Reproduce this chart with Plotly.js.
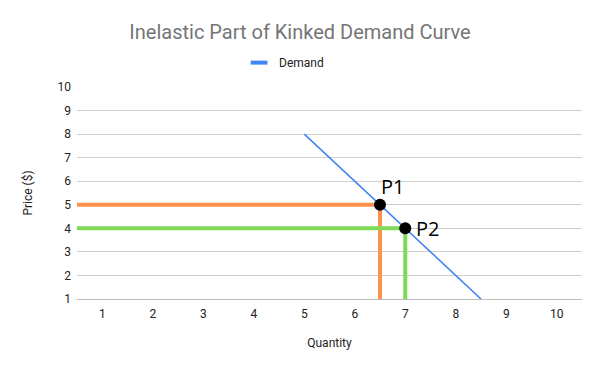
<!DOCTYPE html>
<html>
<head>
<meta charset="utf-8">
<script src="https://cdn.plot.ly/plotly-3.0.1.min.js"></script>
<style>html,body{margin:0;padding:0;background:#fff;}#chart{width:600px;height:371px;}</style>
</head>
<body>
<div id="chart"></div>
<script>
const demandQty = [5, 8.5];
const demandPrice = [8, 1];
const p1Qty = [0.5, 6.5, 6.5];
const p1Price = [5, 5, 1];
const p2Qty = [0.5, 7, 7];
const p2Price = [4, 4, 1];
const pointQty = [6.5, 7];
const pointPrice = [5, 4];
const pointLabels = ['P1', 'P2'];
const xTicks = [1, 2, 3, 4, 5, 6, 7, 8, 9, 10];
const yTicks = [1, 2, 3, 4, 5, 6, 7, 8, 9, 10];

const traces = [
  {x: p1Qty, y: p1Price, mode: 'lines', line: {color: '#ff914d', width: 4}, showlegend: false, hoverinfo: 'skip'},
  {x: p2Qty, y: p2Price, mode: 'lines', line: {color: '#7ed957', width: 4}, showlegend: false, hoverinfo: 'skip'},
  {x: demandQty, y: demandPrice, mode: 'lines', name: 'Demand', line: {color: '#4285f4', width: 1.6}, showlegend: false},
  {x: [null], y: [null], mode: 'markers', name: 'Demand', showlegend: true,
   marker: {symbol: 'line-ew', size: 12, color: '#4285f4', line: {color: '#4285f4', width: 4}}},
  {x: pointQty, y: pointPrice, mode: 'markers', marker: {color: '#000', size: 12}, showlegend: false, cliponaxis: false}
];

const annotations = pointLabels.map((t, i) => ({
  x: pointQty[i], y: pointPrice[i], text: t, showarrow: false,
  xanchor: 'left', yanchor: i === 0 ? 'bottom' : 'middle',
  xshift: i === 0 ? -1 : 9, yshift: i === 0 ? 3 : 0,
  font: {family: 'Open Sans, sans-serif', size: 20, color: '#000'}
}));

const layout = {
  width: 600, height: 371,
  margin: {l: 77, r: 18, t: 87, b: 72},
  paper_bgcolor: '#fff', plot_bgcolor: '#fff',
  font: {family: 'Roboto, Arial, sans-serif', size: 12, color: '#222'},
  title: {text: 'Inelastic Part of Kinked Demand Curve', x: 0.5, xanchor: 'center', y: 0.915, yanchor: 'middle',
          font: {family: 'Roboto, Arial, sans-serif', size: 20, color: '#757575'}},
  showlegend: true,
  legend: {orientation: 'h', x: 0.41, xanchor: 'center', y: 1.115, yanchor: 'middle',
           font: {size: 12, color: '#222'}},
  annotations: annotations,
  xaxis: {range: [0.5, 10.5], tickvals: xTicks, ticktext: xTicks.map(String), showgrid: false,
          zeroline: false, showline: true, linecolor: '#bbb', linewidth: 1, ticks: '', ticklabelstandoff: 4,
          tickfont: {size: 12, color: '#222'},
          title: {text: 'Quantity', font: {size: 12, color: '#222'}, standoff: 18}, fixedrange: true},
  yaxis: {range: [1, 10], tickvals: yTicks, showgrid: true, gridcolor: '#cfcfcf', gridwidth: 1,
          zeroline: false, showline: false, ticks: '', ticklabelstandoff: 5,
          tickfont: {size: 12, color: '#222'},
          title: {text: 'Price ($)', font: {size: 12, color: '#222'}, standoff: 22}, fixedrange: true}
};

Plotly.newPlot('chart', traces, layout, {displayModeBar: false, staticPlot: true});
</script>
</body>
</html>
